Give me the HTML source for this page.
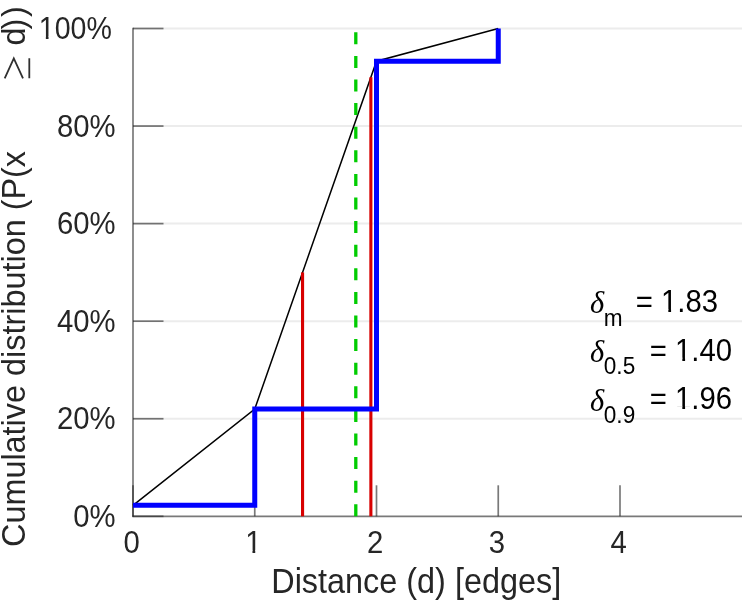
<!DOCTYPE html>
<html><head><meta charset="utf-8">
<style>
html,body{margin:0;padding:0;background:#fff;}
body{width:749px;height:600px;overflow:hidden;position:relative;font-family:"Liberation Sans",sans-serif;}
svg{position:absolute;left:0;top:0;will-change:transform;opacity:0.999;filter:blur(0.4px);}
text{font-family:"Liberation Sans",sans-serif;fill:#262626;}
.it{font-family:"Liberation Serif",serif;font-style:italic;}
</style></head><body>
<svg width="749" height="600" viewBox="0 0 749 600">
<rect width="749" height="600" fill="#fff"/>
<g stroke="#ececec" stroke-width="2">
<line x1="133.0" y1="418.74" x2="742" y2="418.74"/>
<line x1="133.0" y1="321.18" x2="742" y2="321.18"/>
<line x1="133.0" y1="223.62" x2="742" y2="223.62"/>
<line x1="133.0" y1="126.06" x2="742" y2="126.06"/>
<line x1="133.0" y1="28.50" x2="742" y2="28.50"/>
</g>
<g stroke="#262626" stroke-opacity="0.62" stroke-width="1.7" fill="none">
<line x1="133.0" y1="27.70" x2="133.0" y2="517.0999999999999"/>
<line x1="132.2" y1="516.3" x2="742" y2="516.3"/>
<line x1="133.0" y1="516.30" x2="163.5" y2="516.30"/>
<line x1="133.0" y1="418.74" x2="163.5" y2="418.74"/>
<line x1="133.0" y1="321.18" x2="163.5" y2="321.18"/>
<line x1="133.0" y1="223.62" x2="163.5" y2="223.62"/>
<line x1="133.0" y1="126.06" x2="163.5" y2="126.06"/>
<line x1="133.0" y1="28.50" x2="163.5" y2="28.50"/>
<line x1="133.00" y1="485.29999999999995" x2="133.00" y2="516.3"/>
<line x1="254.75" y1="485.29999999999995" x2="254.75" y2="516.3"/>
<line x1="376.50" y1="485.29999999999995" x2="376.50" y2="516.3"/>
<line x1="498.25" y1="485.29999999999995" x2="498.25" y2="516.3"/>
<line x1="620.00" y1="485.29999999999995" x2="620.00" y2="516.3"/>
</g>
<polyline points="133.00,505.32 254.75,408.98 376.50,61.18 498.25,28.50" fill="none" stroke="#000" stroke-width="1.5"/>
<line x1="302.56" y1="272.40" x2="302.56" y2="516.3" stroke="#d80000" stroke-width="3.1"/>
<line x1="370.87" y1="77.28" x2="370.87" y2="516.3" stroke="#d80000" stroke-width="3.1"/>
<line x1="355.80" y1="516.3" x2="355.80" y2="28.50" stroke="#00cc00" stroke-width="3.3" stroke-dasharray="12,11.6"/>
<polyline points="133.00,505.32 254.75,505.32 254.75,408.98 376.50,408.98 376.50,61.18 498.25,61.18 498.25,28.50" fill="none" stroke="#0000ff" stroke-width="5" stroke-linejoin="miter"/>
<text transform="translate(111.8,39.1) scale(0.975,1.04)" font-size="29.3" text-anchor="end">100%</text>
<g transform="translate(111.8,39.1) scale(0.975,1.04)" fill="#fff"><rect x="-74.92" y="-2.93" width="7.27" height="3.66"/><rect x="-64.90" y="-2.93" width="7.62" height="3.66"/></g>
<text transform="translate(115.6,136.66) scale(1,1.04)" font-size="29.3" text-anchor="end">80%</text>
<text transform="translate(115.6,234.22) scale(1,1.04)" font-size="29.3" text-anchor="end">60%</text>
<text transform="translate(115.6,331.78) scale(1,1.04)" font-size="29.3" text-anchor="end">40%</text>
<text transform="translate(115.6,429.34) scale(1,1.04)" font-size="29.3" text-anchor="end">20%</text>
<text transform="translate(115.6,526.9) scale(1,1.04)" font-size="29.3" text-anchor="end">0%</text>
<text transform="translate(131.6,553) scale(1,1.04)" font-size="29.3" text-anchor="middle">0</text>
<text transform="translate(253.35,553) scale(1,1.04)" font-size="29.3" text-anchor="middle">1</text>
<g transform="translate(253.35,553) scale(1,1.04)" fill="#fff"><rect x="-8.15" y="-2.93" width="7.27" height="3.66"/><rect x="1.88" y="-2.93" width="7.62" height="3.66"/></g>
<text transform="translate(375.1,553) scale(1,1.04)" font-size="29.3" text-anchor="middle">2</text>
<text transform="translate(496.85,553) scale(1,1.04)" font-size="29.3" text-anchor="middle">3</text>
<text transform="translate(618.6,553) scale(1,1.04)" font-size="29.3" text-anchor="middle">4</text>
<text transform="translate(416.2,592.5) scale(1,1.055)" font-size="32.4" text-anchor="middle">Distance (d) [edges]</text>
<text transform="translate(25,547) rotate(-90) scale(1,1.04)" font-size="32.4" text-anchor="start">Cumulative distribution (P(x</text>
<path d="M4.7,78.3 L13.8,58.3 L23,78.3 M29.3,58.3 L29.3,78.3" fill="none" stroke="#303030" stroke-width="1.8" stroke-linejoin="miter"/>
<text transform="translate(25,45.5) rotate(-90) scale(1,1.04)" font-size="32.4" text-anchor="start">d</text>
<text transform="translate(25,29.5) rotate(-90) scale(1,1.04)" font-size="32.4" text-anchor="start">)</text>
<text transform="translate(25,17) rotate(-90) scale(1,1.04)" font-size="32.4" text-anchor="start">)</text>
<text transform="translate(590,313.2) scale(1,1.04)" font-size="30.5" text-anchor="start" class="it" style="fill:#000">δ</text>
<text transform="translate(603.8,325.5) scale(1,1.04)" font-size="22.6" text-anchor="start" style="fill:#000">m</text>
<text transform="translate(635.8,312.0) scale(1,1.04)" font-size="29.3" text-anchor="start" style="fill:#000">= 1.83</text>
<g transform="translate(635.8,312.0) scale(1,1.04)" fill="#fff"><rect x="25.26" y="-2.93" width="7.27" height="3.66"/><rect x="35.28" y="-2.93" width="7.62" height="3.66"/></g>
<text transform="translate(590,361.9) scale(1,1.04)" font-size="30.5" text-anchor="start" class="it" style="fill:#000">δ</text>
<text transform="translate(603.8,374.2) scale(1,1.04)" font-size="22.6" text-anchor="start" style="fill:#000">0.5</text>
<text transform="translate(649.8,360.7) scale(1,1.04)" font-size="29.3" text-anchor="start" style="fill:#000">= 1.40</text>
<g transform="translate(649.8,360.7) scale(1,1.04)" fill="#fff"><rect x="25.26" y="-2.93" width="7.27" height="3.66"/><rect x="35.28" y="-2.93" width="7.62" height="3.66"/></g>
<text transform="translate(590,410.59999999999997) scale(1,1.04)" font-size="30.5" text-anchor="start" class="it" style="fill:#000">δ</text>
<text transform="translate(603.8,422.9) scale(1,1.04)" font-size="22.6" text-anchor="start" style="fill:#000">0.9</text>
<text transform="translate(649.8,409.4) scale(1,1.04)" font-size="29.3" text-anchor="start" style="fill:#000">= 1.96</text>
<g transform="translate(649.8,409.4) scale(1,1.04)" fill="#fff"><rect x="25.26" y="-2.93" width="7.27" height="3.66"/><rect x="35.28" y="-2.93" width="7.62" height="3.66"/></g>
</svg>
</body></html>
